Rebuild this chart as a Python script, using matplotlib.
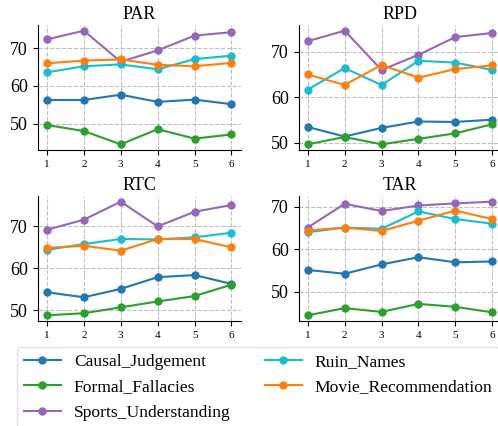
import matplotlib
matplotlib.use('Agg')
import matplotlib.pyplot as plt

plt.rcParams['font.family'] = ['Liberation Serif', 'DejaVu Serif']

steps = [1, 2, 3, 4, 5, 6]
series_names = ['Causal_Judgement', 'Formal_Fallacies', 'Sports_Understanding', 'Ruin_Names', 'Movie_Recommendation']
colors = ['tab:blue', 'tab:green', 'tab:purple', 'tab:cyan', 'tab:orange']

PAR = {
    'Causal_Judgement': [56.3, 56.3, 57.7, 55.8, 56.4, 55.2],
    'Formal_Fallacies': [49.7, 48.1, 44.6, 48.6, 46.1, 47.2],
    'Sports_Understanding': [72.3, 74.6, 66.4, 69.4, 73.3, 74.2],
    'Ruin_Names': [63.6, 65.2, 65.7, 64.4, 67.1, 68.0],
    'Movie_Recommendation': [66.0, 66.7, 67.0, 65.6, 65.2, 66.1],
}
RPD = {
    'Causal_Judgement': [53.5, 51.4, 53.3, 54.7, 54.6, 55.1],
    'Formal_Fallacies': [49.7, 51.3, 49.7, 50.9, 52.1, 54.1],
    'Sports_Understanding': [72.3, 74.6, 66.0, 69.3, 73.2, 74.1],
    'Ruin_Names': [61.7, 66.4, 62.7, 68.0, 67.6, 66.0],
    'Movie_Recommendation': [65.0, 62.7, 67.1, 64.3, 66.2, 67.0],
}
RTC = {
    'Causal_Judgement': [54.3, 53.1, 55.1, 57.9, 58.4, 56.3],
    'Formal_Fallacies': [48.8, 49.3, 50.7, 52.1, 53.4, 56.1],
    'Sports_Understanding': [69.2, 71.6, 75.9, 70.0, 73.5, 75.1],
    'Ruin_Names': [64.4, 65.8, 67.0, 66.9, 67.4, 68.5],
    'Movie_Recommendation': [64.9, 65.4, 64.2, 67.0, 67.0, 65.0],
}
TAR = {
    'Causal_Judgement': [55.1, 54.2, 56.4, 58.1, 56.9, 57.1],
    'Formal_Fallacies': [44.4, 46.1, 45.2, 47.1, 46.4, 45.1],
    'Sports_Understanding': [65.1, 70.7, 69.0, 70.3, 70.8, 71.2],
    'Ruin_Names': [64.0, 65.1, 64.8, 68.9, 67.1, 66.0],
    'Movie_Recommendation': [64.4, 65.1, 64.3, 66.7, 69.1, 67.1],
}
panels = [('PAR', PAR), ('RPD', RPD), ('RTC', RTC), ('TAR', TAR)]

fig = plt.figure(figsize=(4.98, 4.26), dpi=100)
W, H = 498, 426
boxes = [(37.7, 25), (298.5, 25), (37.7, 196), (298.5, 196)]
aw, ah = 203, 125

handles = []
for (title, data), (x0, y0) in zip(panels, boxes):
    ax = fig.add_axes([x0 / W, 1 - (y0 + ah) / H, aw / W, ah / H])
    for name, c in zip(series_names, colors):
        ln, = ax.plot(steps, data[name], color=c, marker='o', ms=5, lw=1.5, label=name)
        if title == 'PAR':
            handles.append(ln)
    ax.set_title(title, fontsize=13, pad=4)
    ax.set_xticks(steps)
    ax.tick_params(axis='x', labelsize=8)
    ax.tick_params(axis='y', labelsize=13)
    ax.grid(True, ls='--', color='0.75', lw=0.8)
    ax.set_axisbelow(True)
    ax.spines['top'].set_visible(False)
    ax.spines['right'].set_visible(False)

fig.legend(handles=handles, labels=series_names, ncol=2, loc='upper left',
           bbox_to_anchor=(17 / W, 1 - 347 / H), borderaxespad=0, fontsize=12.6,
           frameon=True, edgecolor='0.85', handlelength=2.1, handletextpad=0.75,
           labelspacing=0.52, columnspacing=1.95)

fig.savefig('out.png', dpi=100)
